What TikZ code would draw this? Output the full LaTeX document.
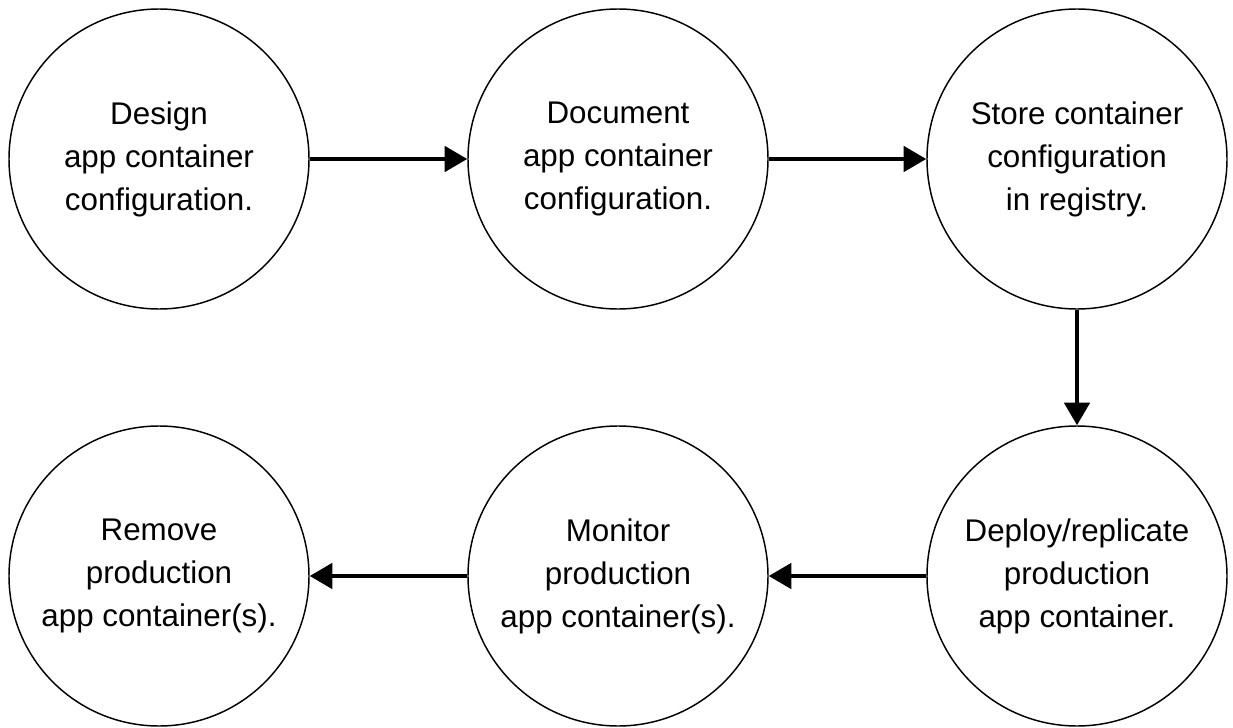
\documentclass[tikz,border=0pt]{standalone}
\usepackage{fontspec}
\setmainfont{Liberation Sans}
\usetikzlibrary{arrows.meta}
\begin{document}
\begin{tikzpicture}[x=0.75pt,y=-0.75pt,
  stage/.style={circle,draw=black,line width=1.1pt,minimum size=225pt,inner sep=0pt,align=center,
    font=\fontsize{23.5}{32.3}\selectfont},
  flow/.style={line width=3pt,-{Triangle[length=17pt,width=19pt]}}]
\useasboundingbox (0,0) rectangle (1233,728);
\node[stage] (design) at (159,159) {Design\\app container\\configuration.};
\node[stage] (document) at (618,159) {Document\\app container\\configuration.};
\node[stage] (store) at (1077,159) {Store container\\configuration\\in registry.};
\node[stage] (deploy) at (1077,576) {Deploy/replicate\\production\\app container.};
\node[stage] (monitor) at (618,576) {Monitor\\production\\app container(s).};
\node[stage] (remove) at (159,576) {Remove\\production\\app container(s).};
\draw[flow] (design) -- (document);
\draw[flow] (document) -- (store);
\draw[flow] (store) -- (deploy);
\draw[flow] (deploy) -- (monitor);
\draw[flow] (monitor) -- (remove);
\end{tikzpicture}
\end{document}
